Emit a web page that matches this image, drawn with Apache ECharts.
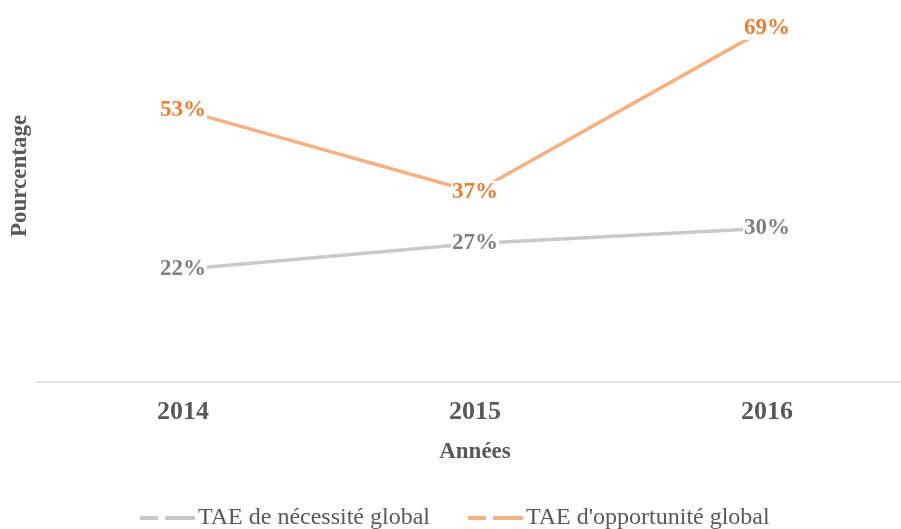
<!DOCTYPE html>
<html>
<head>
<meta charset="utf-8">
<script src="https://cdn.jsdelivr.net/npm/echarts@6/dist/echarts.min.js"></script>
<style>
  html, body { margin: 0; padding: 0; background: #fff; }
  #chart { width: 901px; height: 529px; }
</style>
</head>
<body>
<div id="chart"></div>
<script>
const years = ['2014', '2015', '2016'];
const necessite = [22, 27, 30];
const opportunite = [53, 37, 69];
const seriesNames = ['TAE de nécessité global', "TAE d'opportunité global"];
const lineColors = ['#c9c9c9', '#f4b183'];
const labelColors = ['#7f7f7f', '#ed7d31'];

const serif = '"Liberation Serif", "Times New Roman", serif';
const dashIcon = 'path://M0,0H18V4H0Z M25,0H55V4H25Z';

function labelStyle(color) {
    return {
        show: true,
        position: 'inside',
        formatter: p => p.value + '%',
        color: color,
        fontFamily: serif,
        fontWeight: 'bold',
        fontSize: 23,
        backgroundColor: '#fff',
        padding: [0, 1]
    };
}

function lineSeries(i, data) {
    return {
        name: seriesNames[i],
        type: 'line',
        data: data,
        symbol: 'circle',
        symbolSize: 1,
        itemStyle: { color: 'transparent' },
        lineStyle: { color: lineColors[i], width: 3.5 },
        label: labelStyle(labelColors[i]),
        z: 2 + i
    };
}

let option = {
    animation: false,
    grid: { left: 37, width: 876, top: 23, bottom: 147, outerBoundsMode: 'none' },
    xAxis: {
        type: 'category',
        data: years,
        axisLine: { lineStyle: { color: '#d9d9d9', width: 1.5 } },
        axisTick: { show: false },
        axisLabel: {
            color: '#595959', fontFamily: serif, fontWeight: 'bold', fontSize: 26, margin: 17
        },
        name: 'Années',
        nameLocation: 'middle',
        nameGap: 59,
        nameTextStyle: { color: '#595959', fontFamily: serif, fontWeight: 'bold', fontSize: 23 }
    },
    yAxis: {
        type: 'value',
        min: 0,
        max: 70,
        show: false
    },
    legend: {
        left: 140,
        top: 506,
        padding: 0,
        itemWidth: 55,
        itemHeight: 4,
        itemGap: 38,
        textStyle: { color: '#595959', fontFamily: serif, fontSize: 24, padding: [0, 0, 0, -2] },
        data: [
            { name: seriesNames[0], icon: dashIcon, itemStyle: { color: lineColors[0] } },
            { name: seriesNames[1], icon: dashIcon, itemStyle: { color: lineColors[1] } }
        ]
    },
    graphic: [{
        type: 'text',
        x: 20,
        y: 176,
        rotation: Math.PI / 2,
        style: {
            text: 'Pourcentage',
            fill: '#595959',
            font: 'bold 23px ' + serif,
            textAlign: 'center',
            textVerticalAlign: 'middle'
        }
    }],
    series: [
        lineSeries(0, necessite),
        lineSeries(1, opportunite)
    ]
};

let myChart = echarts.init(document.getElementById('chart'));
myChart.setOption(option);
</script>
</body>
</html>
